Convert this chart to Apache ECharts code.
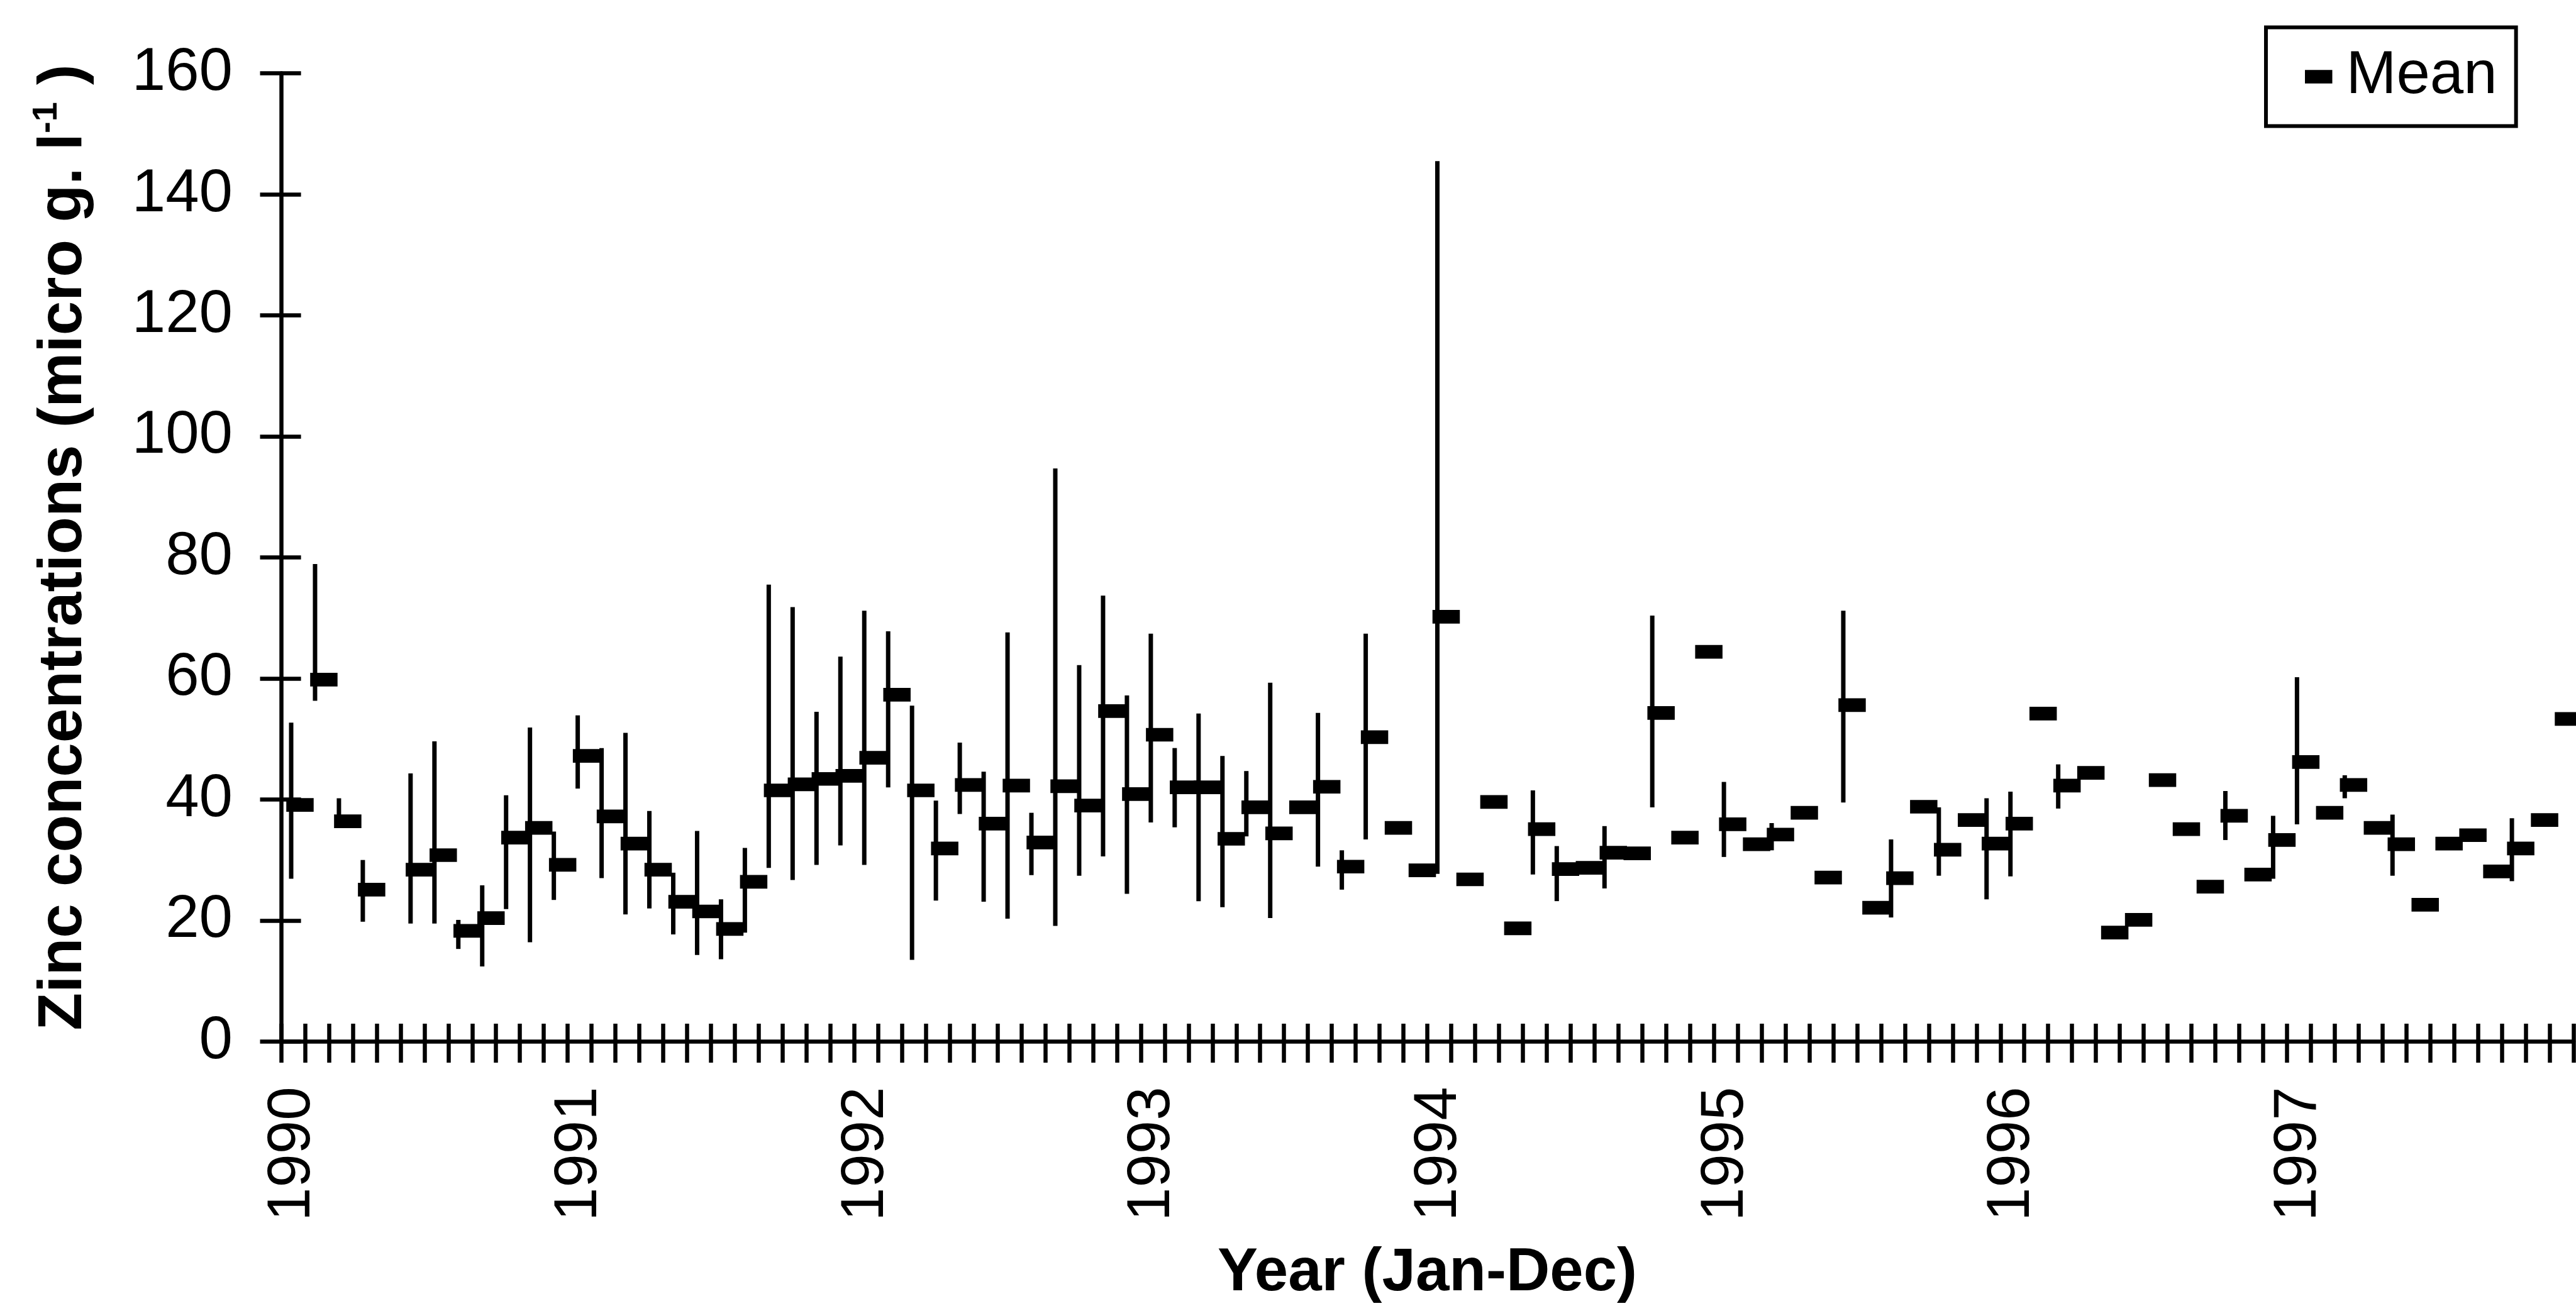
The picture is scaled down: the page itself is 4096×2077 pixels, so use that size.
<!DOCTYPE html>
<html>
<head>
<meta charset="utf-8">
<script src="https://cdn.jsdelivr.net/npm/echarts/dist/echarts.min.js"></script>
<style>
html,body{margin:0;padding:0;background:#ffffff;}
#chart{width:4096px;height:2077px;}
</style>
</head>
<body>
<div id="chart"></div>
<script>
// ---- data ----
const yearLabels = ['1990','1991','1992','1993','1994','1995','1996','1997'];
const monthNames = ['Jan','Feb','Mar','Apr','May','Jun','Jul','Aug','Sep','Oct','Nov','Dec'];

// monthly mean zinc concentration (null = no sample)
const meanValues = [
  39.1, 59.8, 36.4, 25.1, null, 28.4, 30.8, 18.3, 20.4, 33.7, 35.3, 29.2,
  47.2, 37.2, 32.7, 28.4, 23.1, 21.5, 18.6, 26.4, 41.5, 42.5, 43.4, 43.9,
  46.9, 57.3, 41.5, 31.9, 42.4, 36.0, 42.3, 32.9, 42.2, 39.0, 54.6, 40.9,
  50.7, 42.0, 42.0, 33.5, 38.7, 34.4, 38.7, 42.1, 28.9, 50.3, 35.3, 28.3,
  70.2, 26.8, 39.6, 18.7, 35.1, 28.5, 28.7, 31.2, 31.1, 54.3, 33.7, 64.4,
  35.9, 32.6, 34.2, 37.8, 27.1, 55.6, 22.1, 27.0, 38.8, 31.7, 36.6, 32.7,
  36.0, 54.2, 42.3, 44.4, 18.0, 20.1, 43.2, 35.1, 25.6, 37.3, 27.6, 33.3,
  46.2, 37.8, 42.4, 35.3, 32.6, 22.6, 32.7, 34.1, 28.1, 31.9, 36.6, 53.3
];
// monthly minimum (null = no visible range bar)
const lowValues = [
  26.9, 56.3, 35.5, 19.8, null, 19.5, 19.5, 15.3, 12.4, 21.9, 16.4, 23.4,
  41.8, 27.0, 21.0, 22.0, 17.7, 14.3, 13.6, 18.0, 28.7, 26.7, 29.2, 32.4,
  29.2, 42.0, 13.5, 23.3, 37.6, 23.1, 20.3, 27.5, 19.1, 27.4, 30.6, 24.4,
  36.2, 35.4, 23.2, 22.2, 33.9, 20.4, null, 28.9, 25.1, 33.4, null, null,
  27.7, null, null, null, 27.6, 23.2, null, 25.3, null, 38.7, null, null,
  30.5, null, 31.6, null, null, 39.5, null, 20.5, null, 27.4, null, 23.5,
  27.3, null, 38.5, null, null, null, null, null, null, 33.3, null, 26.9,
  35.9, null, 40.2, null, 27.4, null, null, null, null, 26.5, null, null
];
// monthly maximum
const highValues = [
  52.7, 78.9, 40.2, 30.0, null, 44.3, 49.6, 20.1, 25.8, 40.7, 51.9, 34.7,
  53.9, 48.5, 51.0, 38.1, 27.9, 34.8, 23.5, 32.0, 75.5, 71.8, 54.5, 63.6,
  71.2, 67.8, 55.5, 39.8, 49.4, 44.6, 67.6, 37.8, 94.7, 62.2, 73.7, 57.2,
  67.4, 48.5, 54.2, 47.2, 44.7, 59.3, null, 54.3, 31.6, 67.4, null, null,
  145.5, null, null, null, 41.5, 32.3, null, 35.6, null, 70.4, null, null,
  42.9, null, 36.1, null, null, 71.2, null, 33.4, null, 38.7, null, 40.2,
  41.3, null, 45.8, null, null, null, null, null, null, 41.4, null, 37.3,
  60.2, null, 44.0, null, 37.5, null, null, null, null, 36.9, null, null
];
const yTicks = { min: 0, max: 160, step: 20 };

// ---- build library inputs ----
const categories = [];
yearLabels.forEach(y => monthNames.forEach(m => categories.push(m + ' ' + y)));
const rangeData = [];
for (let i = 0; i < categories.length; i++) {
  if (lowValues[i] != null && highValues[i] != null) rangeData.push([i, lowValues[i], highValues[i]]);
}

const FONT = "'Liberation Sans', Arial, Helvetica, sans-serif";
const LW = 6.5;

const chart = echarts.init(document.getElementById('chart'), null, { renderer: 'canvas' });
chart.setOption({
  animation: false,
  backgroundColor: '#ffffff',
  grid: { left: 447, right: 4, top: 116.6, bottom: 420.6, containLabel: false, outerBoundsMode: 'none' },
  legend: {
    data: [{ name: 'Mean', icon: 'rect' }],
    left: 3603, top: 43.5,
    orient: 'horizontal',
    selectedMode: false,
    borderColor: '#000', borderWidth: 6, borderRadius: 0,
    backgroundColor: '#ffffff',
    padding: [28.5, 30, 28.5, 62],
    itemWidth: 43.5, itemHeight: 21.7,
    textStyle: { fontSize: 96, fontFamily: FONT, color: '#000', lineHeight: 100, padding: [0, 0, 0, 17] }
  },
  xAxis: [
    {
      type: 'category', data: categories, boundaryGap: true, position: 'bottom',
      axisLine: { show: true, lineStyle: { color: '#000', width: LW } },
      axisTick: { show: true, inside: false, interval: 0, length: 33.5, lineStyle: { color: '#000', width: LW } },
      axisLabel: {
        interval: 11, rotate: 90, margin: 72, fontSize: 96, fontFamily: FONT, color: '#000',
        formatter: v => v.split(' ')[1]
      },
      splitLine: { show: false },
      name: 'Year (Jan-Dec)', nameLocation: 'middle', nameGap: 321,
      nameTextStyle: { fontSize: 96, fontWeight: 'bold', fontFamily: FONT, color: '#000' }
    },
    {
      type: 'category', data: categories, boundaryGap: true, position: 'bottom',
      axisLine: { show: false },
      axisTick: { show: true, inside: true, interval: 0, length: 28.5, lineStyle: { color: '#000', width: LW } },
      axisLabel: { show: false }, splitLine: { show: false }
    }
  ],
  yAxis: [
    {
      type: 'value', min: yTicks.min, max: yTicks.max, interval: yTicks.step, position: 'left',
      axisLine: { show: true, lineStyle: { color: '#000', width: LW } },
      axisTick: { show: true, inside: false, length: 33.5, lineStyle: { color: '#000', width: LW } },
      axisLabel: { margin: 77, fontSize: 96, fontFamily: FONT, color: '#000' },
      splitLine: { show: false },
      name: 'Zinc concentrations (micro g. l{sup|-1} )',
      nameLocation: 'middle', nameRotate: 90, nameGap: 290,
      nameTextStyle: {
        fontSize: 98, fontWeight: 'bold', fontFamily: FONT, color: '#000',
        padding: [0, 0, 0, 32],
        rich: { sup: { fontSize: 56, fontWeight: 'bold', fontFamily: FONT, color: '#000', verticalAlign: 'top', lineHeight: 110 } }
      }
    },
    {
      type: 'value', min: yTicks.min, max: yTicks.max, interval: yTicks.step, position: 'left',
      axisLine: { show: false },
      axisTick: { show: true, inside: true, length: 31.6, lineStyle: { color: '#000', width: LW } },
      axisLabel: { show: false }, splitLine: { show: false }
    }
  ],
  series: [
    {
      type: 'custom', name: 'Range', xAxisIndex: 0, yAxisIndex: 0,
      data: rangeData,
      encode: { x: 0, y: [1, 2] },
      renderItem: function (params, api) {
        const i = api.value(0);
        const top = api.coord([i, api.value(2)]);
        const bot = api.coord([i, api.value(1)]);
        return {
          type: 'line',
          shape: { x1: top[0] - 3, y1: top[1], x2: bot[0] - 3, y2: bot[1] },
          style: { stroke: '#000', lineWidth: 7, lineCap: 'butt' }
        };
      },
      z: 2
    },
    {
      type: 'scatter', name: 'Mean', xAxisIndex: 0, yAxisIndex: 0,
      data: meanValues,
      symbol: 'rect', symbolSize: [43.5, 21.7], symbolOffset: [11, 0],
      itemStyle: { color: '#000', opacity: 1 },
      z: 3
    }
  ]
});
</script>
</body>
</html>
